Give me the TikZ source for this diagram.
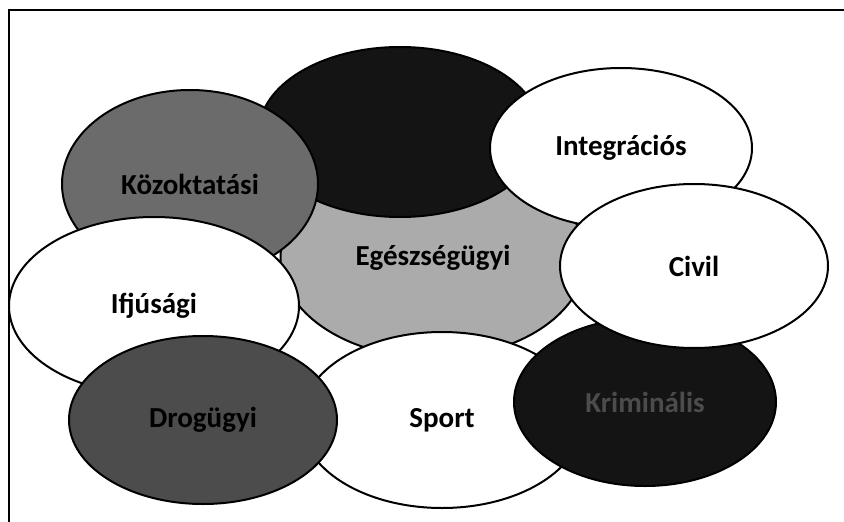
\documentclass[tikz,border=0pt]{standalone}
\usepackage{fontspec}
\setmainfont{Carlito}
\usetikzlibrary{shapes.geometric}
\begin{document}
\begin{tikzpicture}[x=1pt,y=-1pt,
  blob/.style={ellipse,draw=black,line width=2pt,inner sep=0pt,font=\fontsize{29}{32}\selectfont\bfseries},
  whiteblob/.style={blob,fill=white,text=black},
  darkest/.style={blob,fill=black!92,text=black!70},
  midgray/.style={blob,fill=black!58,text=black},
  lightgray/.style={blob,fill=black!33,text=black},
  darkgray/.style={blob,fill=black!70,text=black}]
\useasboundingbox (0,0) rectangle (844,522);
\fill[white] (0,0) rectangle (844,522);
\draw[line width=2pt] (844,10) -- (9,10) -- (9,522);
\node[lightgray,minimum width=305pt,minimum height=200pt] (ege) at (433,258) {Egészségügyi};
\node[darkest,minimum width=282pt,minimum height=170pt] (szoc) at (400,132) {};
\node[midgray,minimum width=256pt,minimum height=188pt] (koz) at (190,184) {Közoktatási};
\node[whiteblob,minimum width=262pt,minimum height=160pt] (int) at (621,148) {Integrációs};
\node[whiteblob,minimum width=290pt,minimum height=178pt] (ifj) at (154,306) {Ifjúsági};
\node[whiteblob,minimum width=282pt,minimum height=176pt] (spo) at (442,420) {Sport};
\node[darkgray,minimum width=268pt,minimum height=168pt] (dro) at (203,420) {Drogügyi};
\node[darkest,minimum width=262pt,minimum height=168pt] (kri) at (645,402) {Kriminális};
\node[whiteblob,minimum width=268pt,minimum height=164pt] (civ) at (694,266) {Civil};
\end{tikzpicture}
\end{document}
